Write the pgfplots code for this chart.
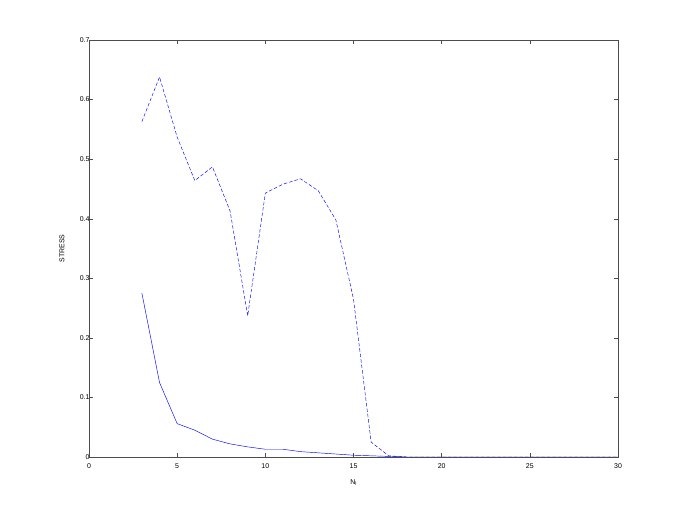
\documentclass[border=0pt]{standalone}
\usepackage{fontspec}
\setmainfont{Liberation Sans}
\usepackage{pgfplots}
\pgfplotsset{compat=1.18}

\begin{document}
\begin{tikzpicture}
\begin{axis}[
    scale only axis,
    width=529bp, height=417bp,
    xmin=0, xmax=30, ymin=0, ymax=0.7,
    xtick={0,5,...,30},
    ytick={0,0.1,...,0.7},
    tick align=inside,
    major tick length=4bp,
    axis line style={black!70, line width=0.4pt},
    tick style={black!70, line width=0.4pt},
    font=\fontsize{7}{8}\selectfont,
    /pgf/number format/assume math mode=true,
    yticklabel style={/pgf/number format/fixed, /pgf/number format/precision=1, xshift=4bp},
    xticklabel style={yshift=-3bp},
    xlabel={N\raisebox{-1.5bp}{\fontsize{5}{6}\selectfont l}},
    ylabel={STRESS},
    xlabel style={yshift=-4bp},
    ylabel style={at={(axis description cs:0,0.5)}, anchor=center, yshift=27bp},
]
% dashed curve
\addplot[blue, line width=0.45pt, dash pattern=on 3.5bp off 2bp] coordinates {
 (3,0.563) (4,0.638) (5,0.537) (6,0.464) (7,0.487) (8,0.413) (9,0.237)
 (10,0.443) (11,0.458) (12,0.467) (13,0.447) (14,0.398) (15,0.265)
 (16,0.025) (17,0.002) (18,0) (19,0) (20,0) (21,0) (22,0) (23,0) (24,0)
 (25,0) (26,0) (27,0) (28,0) (29,0) (30,0)};
% solid curve
\addplot[blue, line width=0.45pt] coordinates {
 (3,0.275) (4,0.125) (5,0.056) (6,0.045) (7,0.030) (8,0.022) (9,0.017)
 (10,0.013) (11,0.013) (12,0.009) (13,0.007) (14,0.005) (15,0.003)
 (16,0.002) (17,0.001) (18,0) (19,0) (20,0) (21,0) (22,0) (23,0) (24,0)
 (25,0) (26,0) (27,0) (28,0) (29,0) (30,0)};
\end{axis}
\path ([xshift=-89bp,yshift=-56bp]current axis.south west)
  rectangle ([xshift=67bp,yshift=40bp]current axis.north east);
\end{tikzpicture}
\end{document}
